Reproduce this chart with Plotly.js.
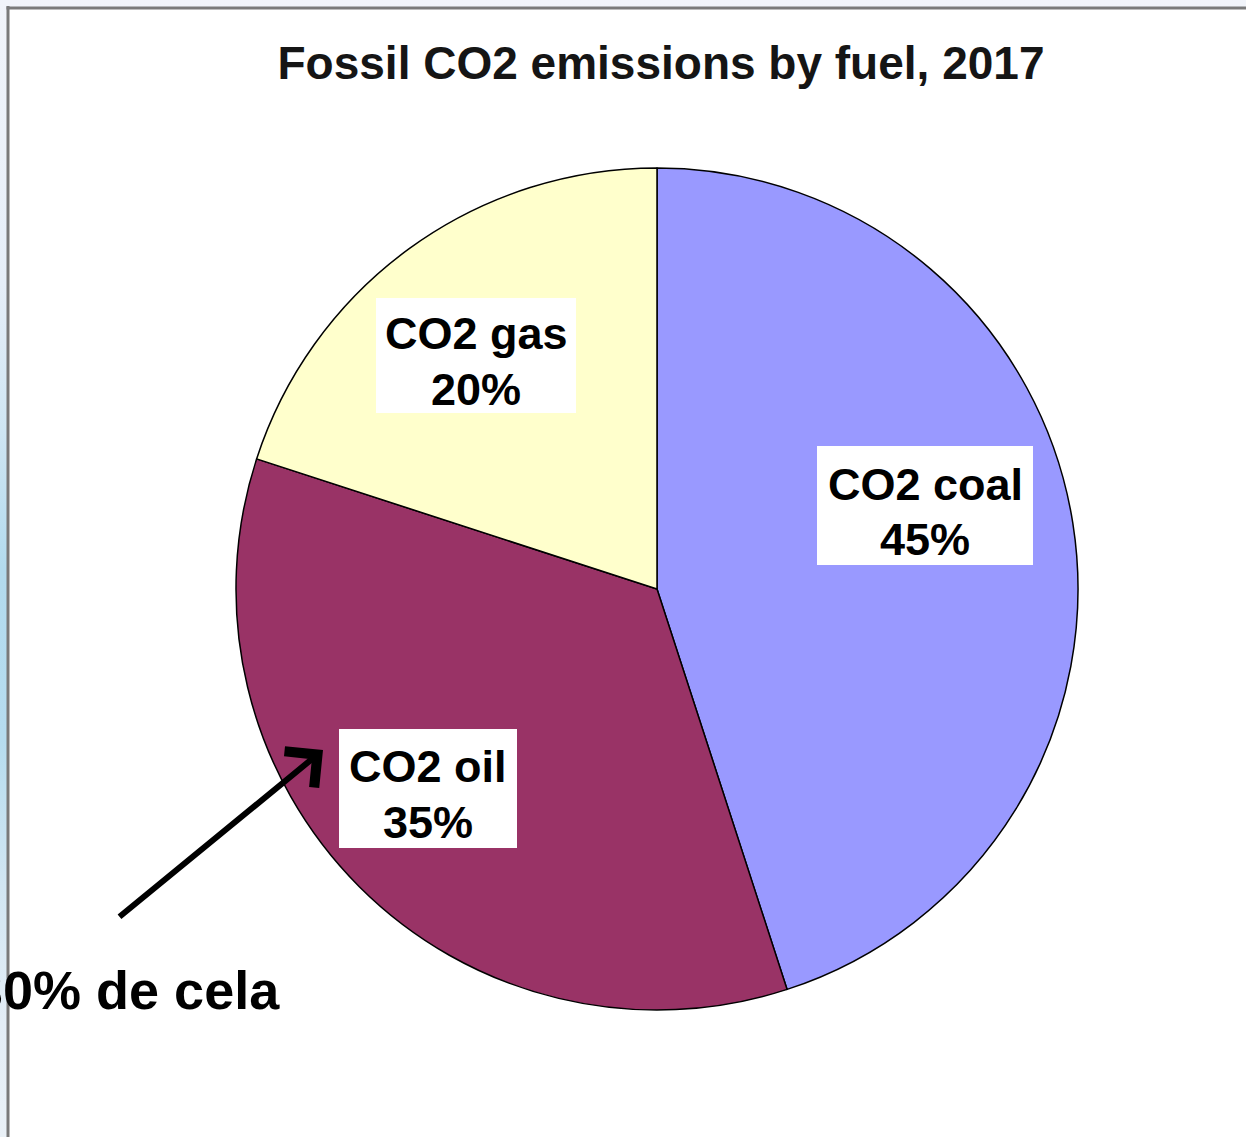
<!DOCTYPE html>
<html>
<head>
<meta charset="utf-8">
<script src="https://cdn.plot.ly/plotly-3.0.1.min.js"></script>
<style>
  html, body { margin: 0; padding: 0; background: #ffffff; }
  #chart {
    width: 1246px; height: 1137px;
    background: linear-gradient(to bottom, #f1f4fa 0%, #e6eef8 25%, #cfe6f3 38%, #b3dbee 50%, #b6dcef 65%, #d2e6f2 78%, #e3edf6 90%, #eaf1f7 100%);
  }
</style>
</head>
<body>
<div id="chart"></div>
<script>
// ---- data ----
const fuels = ["CO2 coal", "CO2 oil", "CO2 gas"];
const shares = [45, 35, 20];
const sliceColors = ["#9999FF", "#993366", "#FFFFCC"];
const chartTitle = "Fossil CO2 emissions by fuel, 2017";
const noteText = "30% de cela";

// ---- helpers (pixel -> paper) ----
const W = 1246, H = 1137;
const px = v => v / W;
const py = v => 1 - v / H;

// pie geometry: centre (657, 589), radius 421
const cx = 657, cy = 589, r = 421;

const trace = {
  type: "pie",
  labels: fuels,
  values: shares,
  sort: false,
  direction: "clockwise",
  rotation: 0,
  textinfo: "none",
  hoverinfo: "label+percent",
  showlegend: false,
  marker: { colors: sliceColors, line: { color: "#000000", width: 1.5 } },
  domain: { x: [px(cx - r), px(cx + r)], y: [py(cy + r), py(cy - r)] }
};

// label boxes: [left, top, right, bottom] in pixels
const boxes = [
  [817, 446, 1033, 565],
  [339, 729, 517, 848],
  [376, 298, 576, 413]
];
// text line centres: [x, y line 1, y line 2] in pixels
const textPos = [
  [925, 484, 539],
  [428, 766, 822],
  [476, 334, 389]
];

const labelFont = { family: "Liberation Sans, Arial, sans-serif", size: 45, color: "#000000", weight: "bold" };

const annotations = [];
fuels.forEach((f, i) => {
  annotations.push({
    xref: "paper", yref: "paper",
    x: px(textPos[i][0]), y: py(textPos[i][1]),
    xanchor: "center", yanchor: "middle",
    text: f, showarrow: false, font: labelFont
  });
  annotations.push({
    xref: "paper", yref: "paper",
    x: px(textPos[i][0]), y: py(textPos[i][2]),
    xanchor: "center", yanchor: "middle",
    text: shares[i] + "%", showarrow: false, font: labelFont
  });
});

// arrow
annotations.push({
  xref: "paper", yref: "paper",
  x: px(323), y: py(750),
  axref: "pixel", ayref: "pixel",
  ax: 118 - 323, ay: 918 - 750,
  text: "",
  showarrow: true,
  arrowhead: 4,
  arrowsize: 1.5,
  arrowwidth: 6,
  arrowcolor: "#000000"
});

// note text
annotations.push({
  xref: "paper", yref: "paper",
  x: px(282), y: py(990),
  xanchor: "right", yanchor: "middle",
  text: noteText,
  showarrow: false,
  font: { family: "Liberation Sans, Arial, sans-serif", size: 54, color: "#000000", weight: "bold" }
});

const shapes = [
  { type: "rect", xref: "paper", yref: "paper", x0: px(8), x1: 1, y0: 0, y1: py(8),
    fillcolor: "#ffffff", line: { width: 0 }, layer: "below" }
];
boxes.forEach(b => shapes.push({
  type: "rect", xref: "paper", yref: "paper",
  x0: px(b[0]), x1: px(b[2]), y0: py(b[3]), y1: py(b[1]),
  fillcolor: "#ffffff", line: { width: 0 }, layer: "above"
}));
shapes.push(
  { type: "line", xref: "paper", yref: "paper", x0: px(8), x1: px(8), y0: 0, y1: py(6),
    line: { color: "#7a7a7a", width: 3 }, layer: "above" },
  { type: "line", xref: "paper", yref: "paper", x0: px(6.5), x1: 1, y0: py(8), y1: py(8),
    line: { color: "#7a7a7a", width: 3 }, layer: "above" }
);

const layout = {
  width: W, height: H,
  margin: { l: 0, r: 0, t: 0, b: 0 },
  paper_bgcolor: "rgba(0,0,0,0)",
  plot_bgcolor: "rgba(0,0,0,0)",
  title: {
    text: chartTitle,
    x: px(661), xanchor: "center",
    y: py(63), yanchor: "middle",
    xref: "container", yref: "container",
    font: { family: "Liberation Sans, Arial, sans-serif", size: 46, color: "#151515", weight: "bold" }
  },
  shapes: shapes,
  annotations: annotations
};

Plotly.newPlot("chart", [trace], layout, { displayModeBar: false, staticPlot: true });
</script>
</body>
</html>
